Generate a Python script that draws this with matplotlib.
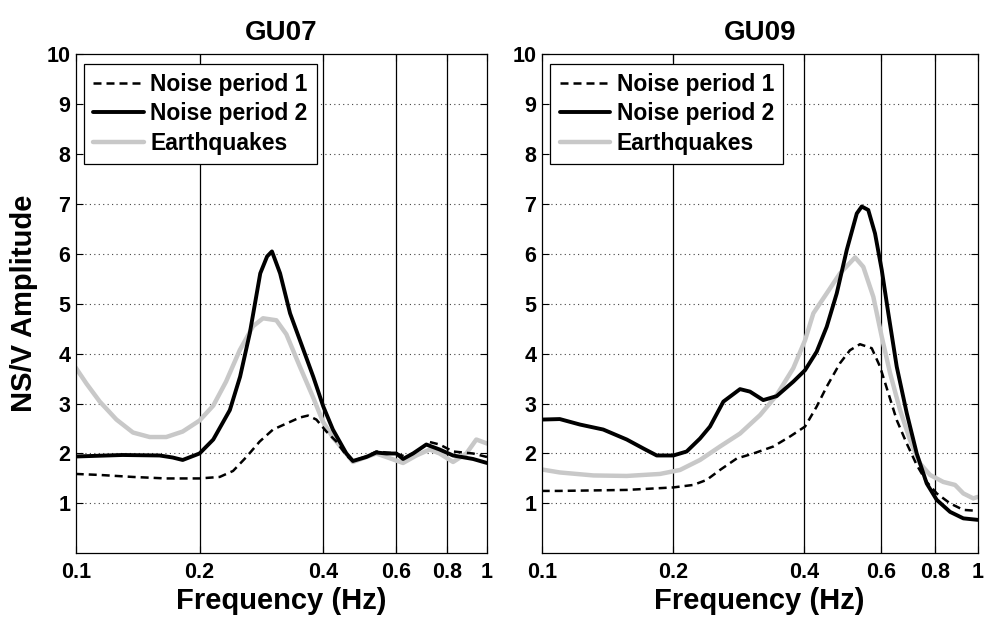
import matplotlib
matplotlib.use("Agg")
import matplotlib.pyplot as plt
from matplotlib.ticker import NullLocator

plt.rcParams['font.family'] = ['Liberation Sans', 'DejaVu Sans']
plt.rcParams['font.weight'] = 'bold'

# ---------------- data ----------------
titles = ["GU07", "GU09"]
series_labels = ["Noise period 1", "Noise period 2", "Earthquakes"]
xtick_vals = [0.1, 0.2, 0.4, 0.6, 0.8, 1.0]
xtick_labels = ["0.1", "0.2", "0.4", "0.6", "0.8", "1"]
ytick_vals = [1, 2, 3, 4, 5, 6, 7, 8, 9, 10]

# GU07
gu07_n1_f = [0.1, 0.1144, 0.1378, 0.166, 0.2, 0.2239, 0.2413, 0.26, 0.2801, 0.3018,
             0.3252, 0.3504, 0.367, 0.3847, 0.4069, 0.4302, 0.455, 0.472, 0.509, 0.538,
             0.569, 0.602, 0.6368, 0.6733, 0.7255, 0.767, 0.827, 0.925, 1.0]
gu07_n1_y = [1.59, 1.57, 1.53, 1.50, 1.50, 1.53, 1.65, 1.93, 2.24, 2.48,
             2.60, 2.72, 2.76, 2.68, 2.44, 2.24, 1.96, 1.85, 1.94, 2.04,
             2.02, 2.0, 1.93, 2.04, 2.23, 2.18, 2.04, 2.0, 1.93]

gu07_n2_f = [0.1, 0.13, 0.16, 0.172, 0.182, 0.2, 0.216, 0.237, 0.251, 0.265, 0.281,
             0.292, 0.300, 0.314, 0.332, 0.364, 0.378, 0.400, 0.422, 0.455, 0.472,
             0.509, 0.538, 0.569, 0.602, 0.625, 0.661, 0.712, 0.767, 0.827, 0.925, 1.0]
gu07_n2_y = [1.94, 1.97, 1.96, 1.92, 1.87, 2.0, 2.28, 2.87, 3.54, 4.41, 5.61,
             5.95, 6.05, 5.61, 4.81, 3.91, 3.54, 2.94, 2.48, 2.0, 1.85,
             1.93, 2.02, 2.0, 2.0, 1.89, 2.0, 2.18, 2.08, 1.96, 1.89, 1.81]

gu07_eq_f = [0.1, 0.1062, 0.1144, 0.1256, 0.1378, 0.1513, 0.166, 0.182, 0.2, 0.216,
             0.232, 0.2505, 0.2698, 0.2854, 0.3075, 0.3252, 0.3504, 0.378, 0.399, 0.422,
             0.4467, 0.472, 0.509, 0.538, 0.569, 0.625, 0.6733, 0.7255, 0.767, 0.827,
             0.891, 0.942, 1.0]
gu07_eq_y = [3.72, 3.40, 3.04, 2.68, 2.42, 2.33, 2.33, 2.44, 2.66, 2.96,
             3.44, 4.07, 4.55, 4.71, 4.67, 4.39, 3.75, 3.12, 2.64, 2.32,
             2.08, 1.83, 1.93, 2.0, 1.93, 1.81, 1.96, 2.08, 2.0, 1.83,
             2.0, 2.28, 2.2]

# GU09
gu09_n1_f = [0.1, 0.110, 0.1567, 0.2004, 0.2227, 0.2389, 0.2564, 0.2801, 0.3058, 0.3398,
             0.3710, 0.4018, 0.4272, 0.4505, 0.4832, 0.5094, 0.537, 0.5714, 0.597, 0.6237,
             0.652, 0.6874, 0.7246, 0.7638, 0.8054, 0.8641, 0.9268, 1.0]
gu09_n1_y = [1.25, 1.25, 1.27, 1.32, 1.37, 1.47, 1.67, 1.90, 2.0, 2.14,
             2.34, 2.54, 2.94, 3.34, 3.81, 4.07, 4.19, 4.11, 3.74, 3.21,
             2.67, 2.20, 1.77, 1.43, 1.20, 1.0, 0.87, 0.85]

gu09_n2_f = [0.1, 0.110, 0.1224, 0.1384, 0.1567, 0.1711, 0.1836, 0.2004, 0.215, 0.2307,
             0.2432, 0.2610, 0.2850, 0.3004, 0.3222, 0.3459, 0.3776, 0.4018, 0.4272, 0.4505,
             0.4750, 0.5008, 0.5280, 0.542, 0.561, 0.5814, 0.6024, 0.6237, 0.652, 0.6874,
             0.7246, 0.7638, 0.8054, 0.8641, 0.9268, 1.0]
gu09_n2_y = [2.68, 2.69, 2.58, 2.48, 2.28, 2.10, 1.96, 1.96, 2.04, 2.30,
             2.54, 3.04, 3.29, 3.24, 3.07, 3.15, 3.44, 3.67, 4.04, 4.54,
             5.21, 6.08, 6.81, 6.95, 6.88, 6.41, 5.68, 4.81, 3.74, 2.81,
             2.0, 1.40, 1.07, 0.83, 0.70, 0.67]

gu09_eq_f = [0.1, 0.110, 0.1314, 0.1567, 0.1867, 0.2076, 0.2307, 0.2564, 0.2850, 0.3168,
             0.3459, 0.3776, 0.4018, 0.4198, 0.4505, 0.4832, 0.5233, 0.5465, 0.5762, 0.6024,
             0.6295, 0.6636, 0.6994, 0.7373, 0.7775, 0.8338, 0.8872, 0.9268, 0.977, 1.0]
gu09_eq_y = [1.68, 1.62, 1.56, 1.55, 1.59, 1.67, 1.87, 2.14, 2.40, 2.77,
             3.17, 3.71, 4.27, 4.81, 5.21, 5.61, 5.93, 5.74, 5.14, 4.34,
             3.61, 2.87, 2.27, 1.80, 1.57, 1.43, 1.37, 1.20, 1.10, 1.13]

panels = [
    (gu07_n1_f, gu07_n1_y, gu07_n2_f, gu07_n2_y, gu07_eq_f, gu07_eq_y),
    (gu09_n1_f, gu09_n1_y, gu09_n2_f, gu09_n2_y, gu09_eq_f, gu09_eq_y),
]

# ---------------- figure ----------------
fig = plt.figure(figsize=(9.86, 6.23), dpi=100)
axes_rects = [
    [0.0768, 0.1119, 0.4171, 0.8009],
    [0.5494, 0.1119, 0.4422, 0.8009],
]

for i, (rect, title, data) in enumerate(zip(axes_rects, titles, panels)):
    n1f, n1y, n2f, n2y, eqf, eqy = data
    ax = fig.add_axes(rect)
    ax.set_xscale('log')
    ax.set_xlim(0.1, 1.0)
    ax.set_ylim(0, 10)

    for yv in range(1, 10):
        ax.axhline(yv, color='#444444', linestyle=(0, (1, 3)), linewidth=0.8, zorder=1)
    for xv in [0.2, 0.4, 0.6, 0.8]:
        ax.axvline(xv, color='black', linewidth=0.9, zorder=1)

    l_eq, = ax.plot(eqf, eqy, color='#c8c8c8', linewidth=3.2, zorder=2,
                    label=series_labels[2], solid_joinstyle='round',
                    solid_capstyle='round')
    l_n1, = ax.plot(n1f, n1y, color='black', linewidth=1.8, linestyle=(0, (3.2, 2.0)),
                    zorder=3, label=series_labels[0])
    l_n2, = ax.plot(n2f, n2y, color='black', linewidth=2.8, zorder=4,
                    label=series_labels[1], solid_joinstyle='round',
                    solid_capstyle='round')

    ax.set_xticks(xtick_vals)
    ax.set_xticklabels(xtick_labels)
    ax.xaxis.set_minor_locator(NullLocator())
    ax.set_yticks(ytick_vals)
    ax.set_yticklabels([str(v) for v in ytick_vals])
    ax.tick_params(axis='both', direction='in', length=5, width=0.8,
                   labelsize=15.5, top=True, right=True)
    ax.tick_params(axis='x', pad=6)
    ax.tick_params(axis='y', pad=4)
    for lab in ax.get_xticklabels() + ax.get_yticklabels():
        lab.set_fontweight('bold')
    for sp in ax.spines.values():
        sp.set_linewidth(0.9)

    ax.set_title(title, fontsize=20, fontweight='bold', pad=10)
    ax.set_xlabel("Frequency (Hz)", fontsize=21, fontweight='bold', labelpad=3)
    if i == 0:
        ax.set_ylabel("NS/V Amplitude", fontsize=21, fontweight='bold', labelpad=6)

    leg = ax.legend(handles=[l_n1, l_n2, l_eq], loc='upper left',
                    bbox_to_anchor=(0.02, 0.981), borderaxespad=0,
                    fancybox=False, framealpha=1, edgecolor='black',
                    prop={'size': 16.5, 'weight': 'bold'},
                    handlelength=2.2, handletextpad=0.3, labelspacing=0.28,
                    borderpad=0.4)
    leg.get_frame().set_linewidth(0.9)
    leg.set_zorder(10)

fig.savefig("out.png", dpi=100)
